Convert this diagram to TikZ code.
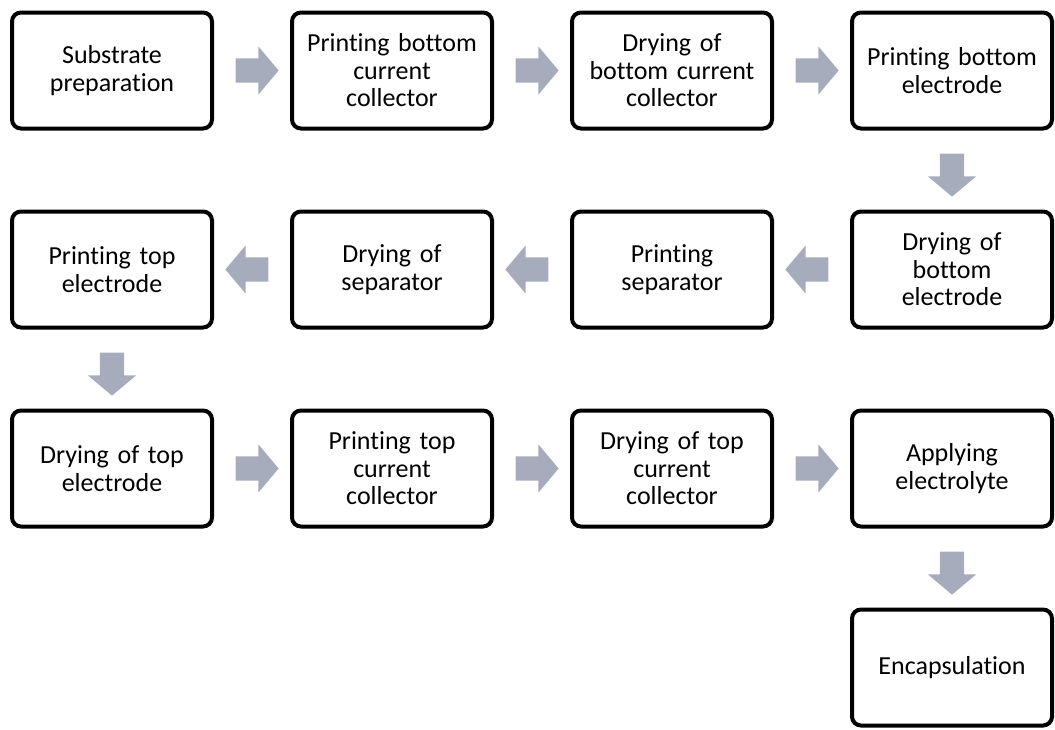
\documentclass[tikz,border=0pt]{standalone}
\usepackage{fontspec}
\setmainfont{Carlito}[Ligatures=NoCommon]
\usetikzlibrary{positioning,shapes.arrows}
\definecolor{flowgray}{RGB}{167,172,189}
\tikzset{
  stage/.style = {draw, line width=4pt, rounded corners=9pt,
    minimum width=200pt, minimum height=116pt, inner sep=0pt,
    text width=194pt, align=center,
    font=\fontsize{26}{27.5}\selectfont},
  flow/.style = {single arrow, shape border rotate=#1, fill=flowgray,
    draw=none, inner sep=12pt, single arrow head extend=12pt,
    single arrow tip angle=100, minimum height=43pt}
}
\begin{document}
\begin{tikzpicture}[node distance = 79pt and 76pt]
    \useasboundingbox (0,0) rectangle (1055pt,-729pt);
    % first row
    \node (sub) [stage] at (112pt,-70.5pt) {Substrate\\preparation};
    \node (pbcc) [stage, right = of sub] {Printing bottom\\current\\collector};
    \node (dbcc) [stage, right = of pbcc] {Drying of\\bottom current\\collector};
    \node (pbe) [stage, right = of dbcc] {Printing bottom\\electrode};
    % second row
    \node (dbe) [stage, below = of pbe] {Drying of\\bottom\\electrode};
    \node (psep) [stage, left = of dbe] {Printing\\separator};
    \node (dsep) [stage, left = of psep] {Drying of\\separator};
    \node (pte) [stage, left = of dsep] {Printing top\\electrode};
    % third row
    \node (dte) [stage, below = of pte] {Drying of top\\electrode};
    \node (ptcc) [stage, right = of dte] {Printing top\\current\\collector};
    \node (dtcc) [stage, right = of ptcc] {Drying of top\\current\\collector};
    \node (elyte) [stage, right = of dtcc] {Applying\\electrolyte};
    \node (encap) [stage, below = of elyte] {Encapsulation};
    % block arrows
    \path (sub) -- node [flow=0] {} (pbcc);
    \path (pbcc) -- node [flow=0] {} (dbcc);
    \path (dbcc) -- node [flow=0] {} (pbe);
    \path (pbe) -- node [flow=270] {} (dbe);
    \path (dbe) -- node [flow=180] {} (psep);
    \path (psep) -- node [flow=180] {} (dsep);
    \path (dsep) -- node [flow=180] {} (pte);
    \path (pte) -- node [flow=270] {} (dte);
    \path (dte) -- node [flow=0] {} (ptcc);
    \path (ptcc) -- node [flow=0] {} (dtcc);
    \path (dtcc) -- node [flow=0] {} (elyte);
    \path (elyte) -- node [flow=270] {} (encap);
\end{tikzpicture}
\end{document}
